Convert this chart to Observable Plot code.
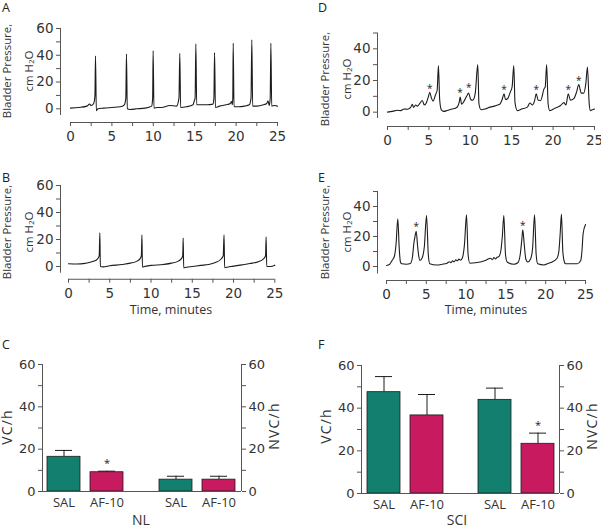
<!DOCTYPE html>
<html><head><meta charset="utf-8">
<script src="https://cdn.jsdelivr.net/npm/d3@7"></script>
<script src="https://cdn.jsdelivr.net/npm/@observablehq/plot@0.6"></script>
<style>
body{margin:0;background:#fff;}
#fig{position:relative;width:601px;height:528px;overflow:hidden;font-family:"Open Sans",sans-serif;color:#333;}
#fig svg{position:absolute;background:transparent;overflow:visible;}
.lab{position:absolute;white-space:nowrap;line-height:1;font-size:12.5px;color:#333;}
.rot{transform:translate(-50%,-50%) rotate(-90deg);text-align:center;line-height:21.5px;}
.ctr{transform:translate(-50%,-50%);}
.letter{position:absolute;font-size:12.5px;line-height:1;color:#222;}
sub{font-size:0.7em;line-height:0;vertical-align:-0.25em;}
</style></head>
<body><div id="fig"></div>
<script>
// ---------------- DATA ----------------
// Trace A (NL, saline): [minutes, cm H2O]
const traceA = [[0,0.5],[1,1],[2,2],[2.3,3.5],[2.5,2.5],[2.8,4],[2.95,10],[3.02,39.5],[3.12,-1.5],[3.3,0],[4,0.5],[5,1],[6,1.5],[6.5,3],[6.68,8],[6.76,41],[6.86,0],[7.2,-0.5],[8,0],[9,0.5],[9.8,2],[9.92,8],[9.98,43.5],[10.08,0.5],[10.5,1],[11,1],[12,2.5],[12.8,2],[13.1,8],[13.2,41.5],[13.3,1],[14,1.5],[14.8,3],[14.95,6],[15.05,8],[15.14,48.5],[15.24,3],[15.6,3],[16.5,3],[17.2,3.5],[17.32,8],[17.4,42],[17.5,1],[18,2],[18.8,3],[19.3,4],[19.45,5.5],[19.55,3],[19.6,8],[19.65,49],[19.75,1.5],[20.3,1.5],[21,2],[21.6,3],[21.8,8],[21.9,51.5],[22.0,2],[22.5,2],[23.3,3],[23.7,4],[23.85,6],[24.0,2.5],[24.12,8],[24.2,49],[24.3,2],[24.6,2.5],[25,2]];
// Trace B (NL, AF-10)
const traceB = [[0,2],[1,1.8],[2,2.3],[3,3.8],[3.5,5.5],[3.72,8],[3.8,25],[3.86,0],[4.2,-0.3],[5,0.5],[6.5,1.5],[7.5,2.5],[8.3,4],[8.7,6],[8.83,8],[8.9,23.5],[8.96,-0.5],[9.2,0],[10,0.8],[11.5,1.5],[12.5,2.5],[13.3,4],[13.7,6],[13.84,8],[13.9,21],[13.96,-1],[14.3,-0.5],[15,0],[16,0.8],[17,1.5],[17.8,3],[18.4,5],[18.75,8],[18.85,23.5],[18.92,-0.8],[19.3,-0.5],[20,0.3],[21,1.2],[22,2.2],[23,3.5],[23.6,5.5],[23.88,8],[23.95,22],[24.02,0],[24.5,0],[25,1]];
// Trace D (SCI, saline)
const traceD = [[0,0],[0.6,0.5],[1.2,1.2],[1.6,1],[2,2],[2.4,1.8],[2.8,3],[3.0,5],[3.15,3],[3.4,4.5],[3.6,3.8],[3.9,5.5],[4.2,7.4],[4.45,4.5],[4.7,6],[4.95,10],[5.1,12.6],[5.3,9],[5.5,7],[5.8,11],[6.0,14],[6.15,29.5],[6.3,8],[6.5,1.5],[6.8,0.5],[7.2,1],[7.8,2],[8.2,2.5],[8.45,3.5],[8.65,6],[8.78,9.5],[8.95,5],[9.2,6.5],[9.55,10],[9.8,12],[10.05,8],[10.3,7.5],[10.6,12],[10.9,30],[11.05,5],[11.3,1.5],[11.8,2],[12.4,3.2],[12.9,3.8],[13.3,4.5],[13.6,5.3],[13.85,8],[14.07,11.6],[14.25,8],[14.5,8.5],[14.85,13],[15.05,16],[15.25,29.5],[15.4,6],[15.68,1],[16.2,2],[16.9,3.2],[17.2,5.8],[17.5,4.5],[17.75,7],[17.97,11.6],[18.2,7.5],[18.5,7.4],[18.9,14.7],[19.05,16],[19.22,30],[19.4,5],[19.6,1],[20.2,2.5],[20.9,4.2],[21.3,6],[21.55,4.5],[21.83,11.6],[22.1,7.5],[22.5,8.5],[22.85,13],[23.1,17.5],[23.4,12],[23.7,12],[23.95,18],[24.15,28.5],[24.35,6],[24.5,1],[24.75,1.5],[25,2]];
const starsD = [[5.1,16.8],[8.76,14.1],[9.8,17.5],[14.07,16.2],[17.97,16.2],[21.83,16.2],[23.1,22]];
// Trace E (SCI, AF-10)
const traceE = [[0,0.7],[0.4,1.5],[0.7,4],[1.0,7],[1.2,15],[1.42,31.8],[1.6,12],[1.75,3],[1.9,1.8],[2.5,1.5],[3.0,2],[3.25,6],[3.45,16],[3.58,20],[3.73,23.5],[3.9,14],[4.05,7],[4.2,4],[4.5,6],[4.75,13],[5.03,34],[5.25,8],[5.44,1.8],[6.3,1],[7.0,1.5],[7.6,2.2],[7.9,3.2],[8.1,2.5],[8.3,3.8],[8.5,3],[8.7,4.5],[8.9,3.8],[9.1,5],[9.3,4.2],[9.55,6],[9.8,15],[10.05,34.5],[10.25,8],[10.47,2.2],[11.2,2.5],[11.8,3],[12.5,4.2],[13.07,5.5],[13.3,4.5],[13.5,6],[13.7,5],[13.9,6.2],[14.1,6.5],[14.35,10],[14.55,20],[14.74,34],[14.95,8],[15.16,3],[16,1.5],[16.5,2.5],[16.8,8],[17.0,18],[17.12,24.5],[17.3,15],[17.5,5],[17.75,3],[18.1,5],[18.35,12],[18.6,34.5],[18.8,8],[19.0,1.8],[19.8,1],[20.3,2],[20.8,3],[21.4,5.3],[21.65,10],[21.82,22],[21.98,35],[22.15,10],[22.35,3],[22.5,1.8],[23.96,1.8],[24.4,4],[24.55,10],[24.7,21.8],[25,28]];
const starsE = [[3.73,28.4],[17.12,29]];

const timeTicks = [0,2.5,5,7.5,10,12.5,15,17.5,20,22.5,25];
const pressureTicks60 = [0,10,20,30,40,50,60];
const pressureTicks50 = [0,10,20,30,40,50];

// Bar panels C (NL) and F (SCI)
const barGroups = ["VC","NVC"];
const treatments = ["SAL","AF-10"];
const nlMean  = [16.4, 9.1, 5.6, 5.6];
const nlErr   = [3.0, 0.5, 1.6, 1.6];
const nlSig   = [false, true, false, false];
const sciMean = [47.5, 36.6, 43.9, 23.3];
const sciErr  = [7.3, 9.8, 5.5, 5.0];
const sciSig  = [false, false, false, true];
const rateTicks = [0,10,20,30,40,50,60];

// ---------------- STYLE ----------------
const AXIS = "#555", INK = "#1c1c1c", TXT = "#333";
const GREEN = "#13806f", MAGENTA = "#c81a5e";
const NUMFONT = "DejaVu Sans";
const fig = document.getElementById("fig");

function place(el, left, top){ el.style.left = left + "px"; el.style.top = top + "px"; fig.appendChild(el); }
function label(html, cls, x, y, size, spacing){
  const d = document.createElement("div");
  d.className = "lab " + cls; d.innerHTML = html;
  d.style.left = x + "px"; d.style.top = y + "px";
  if (size) d.style.fontSize = size + "px";
  if (spacing) d.style.letterSpacing = spacing + "px";
  fig.appendChild(d);
}
function letter(t, x, y){
  const d = document.createElement("div"); d.className = "letter"; d.textContent = t;
  d.style.left = x + "px"; d.style.top = y + "px"; fig.appendChild(d);
}

function tracePlot(cfg){
  const rows = cfg.data.map(([t,p]) => ({t, p}));
  const stars = (cfg.stars || []).map(([t,p]) => ({t, p}));
  const yd = cfg.yDomain;
  return Plot.plot({
    width: cfg.width, height: cfg.height,
    marginLeft: cfg.mL, marginRight: cfg.mR, marginTop: cfg.mT, marginBottom: cfg.mB,
    style: {fontFamily: NUMFONT, fontSize: "13px", color: TXT, background: "transparent", overflow: "visible"},
    x: {domain: [0,25]},
    y: {domain: yd},
    marks: [
      Plot.ruleX([0], {y1: yd[0], y2: yd[1], dx: -cfg.gx, stroke: AXIS}),
      Plot.ruleY([yd[0]], {x1: 0, x2: 25, dy: cfg.gy, stroke: AXIS}),
      Plot.axisY({ticks: cfg.yTicks, tickFormat: d => d % 20 === 0 ? d : "", dx: -cfg.gx, tickSize: 4, tickPadding: 3, stroke: AXIS, fill: TXT, label: null, fontSize: 13.5}),
      Plot.axisX({ticks: timeTicks, tickFormat: d => d % 5 === 0 ? d : "", dy: cfg.gy, tickSize: 4, tickPadding: 5, stroke: AXIS, fill: TXT, label: null, fontSize: 13.5}),
      Plot.line(rows, {x: "t", y: "p", stroke: INK, strokeWidth: 1.1, curve: "monotone-x"}),
      Plot.text(stars, {x: "t", y: "p", text: () => "*", fontSize: 10, dy: 3, fill: INK, fontFamily: "Open Sans"})
    ]
  });
}

function barPlot(cfg){
  const rows = cfg.mean.map((v,i) => ({group: barGroups[Math.floor(i/2)], trt: treatments[i%2], v, top: v + cfg.err[i], sig: cfg.sig[i]}));
  const common = {width: cfg.width, height: cfg.height, marginLeft: cfg.mL, marginRight: cfg.mR, marginTop: cfg.mT, marginBottom: cfg.mB};
  const bars = Plot.plot({
    ...common,
    style: {fontFamily: "Open Sans", fontSize: "13px", color: TXT, background: "transparent", overflow: "visible"},
    fx: {domain: barGroups, axis: null, paddingInner: 0.23, paddingOuter: 0, label: null},
    x: {domain: treatments, paddingInner: 0.24, paddingOuter: 0.1, label: null},
    y: {domain: [0,60], axis: null},
    color: {domain: treatments, range: [GREEN, MAGENTA]},
    marks: [
      Plot.ruleX(rows, {fx: "group", x: "trt", y1: "v", y2: "top", stroke: INK, strokeWidth: 1}),
      Plot.tickY(rows, {fx: "group", x: "trt", y: "top", stroke: INK, strokeWidth: 1, insetLeft: 8, insetRight: 8}),
      Plot.barY(rows, {fx: "group", x: "trt", y: "v", fill: "trt", stroke: INK, strokeWidth: 0.8}),
      Plot.text(rows.filter(d => d.sig), {fx: "group", x: "trt", y: "top", text: () => "*", dy: -8, fontSize: 11, fill: INK}),
      Plot.axisX({tickSize: 0, tickPadding: 6, fill: TXT, label: null, fontSize: 13})
    ]
  });
  const axes = Plot.plot({
    ...common,
    style: {fontFamily: NUMFONT, fontSize: "13px", color: TXT, background: "transparent", overflow: "visible"},
    x: {domain: [0,1], axis: null},
    y: {domain: [0,60]},
    marks: [
      Plot.ruleX([0,1], {y1: 0, y2: 60, stroke: AXIS}),
      Plot.ruleY([0], {stroke: AXIS}),
      Plot.axisY({anchor: "left", ticks: rateTicks, tickFormat: d => d % 20 === 0 ? d : "", tickSize: 4, tickPadding: 3, stroke: AXIS, fill: TXT, label: null, fontSize: 13}),
      Plot.axisY({anchor: "right", ticks: rateTicks, tickFormat: d => d % 20 === 0 ? d : "", tickSize: 4, tickPadding: 3, stroke: AXIS, fill: TXT, label: null, fontSize: 13})
    ]
  });
  return [bars, axes];
}

// ---------------- PANELS ----------------
place(tracePlot({data: traceA, yDomain: [-5,60], yTicks: pressureTicks60, width: 290, height: 150, mL: 70, mR: 13, mT: 28, mB: 35, gx: 10, gy: 7}), 0, 0);
place(tracePlot({data: traceB, yDomain: [-5,60], yTicks: pressureTicks60, width: 290, height: 165, mL: 68, mR: 15.7, mT: 35, mB: 42.25, gx: 8, gy: 6}), 0, 150);
place(tracePlot({data: traceD, stars: starsD, yDomain: [-4,50], yTicks: pressureTicks50, width: 301, height: 160, mL: 87, mR: 7, mT: 32.5, mB: 42, gx: 10, gy: 8}), 300, 0);
place(tracePlot({data: traceE, stars: starsE, yDomain: [-5,50], yTicks: pressureTicks50, width: 301, height: 165, mL: 86, mR: 16, mT: 41, mB: 41.5, gx: 9, gy: 6.5}), 300, 150);

const [cBars, cAxes] = barPlot({mean: nlMean, err: nlErr, sig: nlSig, width: 290, height: 175, mL: 42, mR: 49, mT: 24, mB: 24});
place(cBars, 0, 340); place(cAxes, 0, 340);
const [fBars, fAxes] = barPlot({mean: sciMean, err: sciErr, sig: sciSig, width: 301, height: 175, mL: 61, mR: 42, mT: 25, mB: 22});
place(fBars, 300, 340); place(fAxes, 300, 340);

// ---------------- TEXT ----------------
const yTitle = 'Bladder Pressure,<br>cm H<sub>2</sub>O';
label(yTitle, "rot", 17, 71, 11.4);
label(yTitle, "rot", 17, 232, 11.4);
label(yTitle, "rot", 335, 79, 11.4);
label(yTitle, "rot", 335, 232, 11.4);
label("Time, minutes", "ctr", 171, 310, 12.5);
label("Time, minutes", "ctr", 486, 310, 12.5);
label("VC/h", "rot", 7, 427, 14, 1.2);
label("NVC/h", "rot", 274, 426, 14, 1.2);
label("VC/h", "rot", 326, 426, 14, 1.2);
label("NVC/h", "rot", 592, 426, 14, 1.2);
label("NL", "ctr", 141, 520, 14);
label("SCI", "ctr", 457, 520, 14);
letter("A", 2, 2); letter("B", 2, 172); letter("C", 2, 339);
letter("D", 318, 2); letter("E", 318, 172); letter("F", 318, 339);
</script></body></html>
